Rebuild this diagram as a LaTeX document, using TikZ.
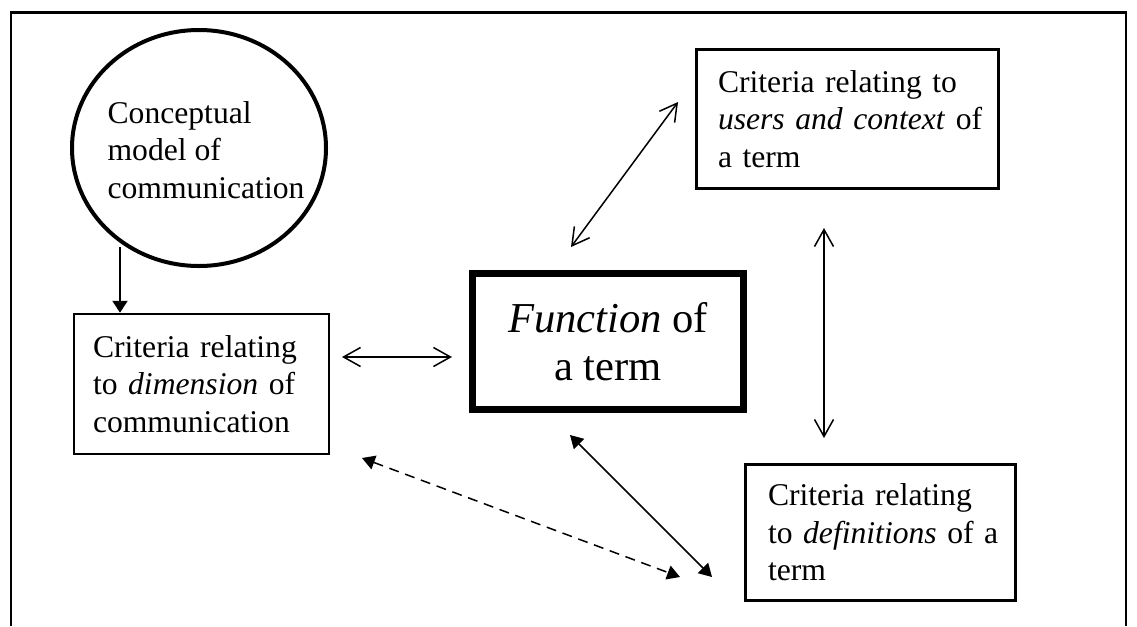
\documentclass[tikz,border=0pt]{standalone}
\usepackage{fontspec}
\setmainfont{Liberation Serif}
\usetikzlibrary{arrows.meta,shapes.geometric}

\begin{document}
\begin{tikzpicture}[
            x=0.025cm,y=-0.025cm,
            txt/.style={font=\fontsize{22.5}{26.7}\selectfont,align=left,inner sep=0},
            crit/.style={draw,txt,line width=0.07cm},
            barb/.style={line width=0.0375cm,{Straight Barb[length=0.425cm,width=0.475cm]}-{Straight Barb[length=0.425cm,width=0.475cm]}},
            solid head/.style={line width=0.0375cm,{Triangle[length=0.32cm,width=0.36cm]}-{Triangle[length=0.32cm,width=0.36cm]}}
            ]
            \def\u{0.025cm} % one pixel of the reference

            \useasboundingbox (0,0) rectangle (1137,626);
            \draw[line width=0.07cm] (11,626) -- (11,12.5) -- (1126,12.5) -- (1126,626);

            % model and criteria
            \node (model) [ellipse,draw,line width=0.1cm,inner sep=0,
                minimum width=254*\u,minimum height=236*\u] at (199,148) {};
            \node (modeltext) [txt] at (206,150) {Conceptual\\model of\\communication};
            \node (dim) [crit,line width=0.0625cm,minimum width=255*\u,minimum height=140*\u,
                text width=217*\u] at (201.5,384)
                {\mbox{Criteria relating}\\\mbox{to \textit{dimension} of}\\\mbox{communication}};
            \node (fun) [draw,line width=0.175cm,minimum width=271*\u,minimum height=136*\u,
                font=\fontsize{30.3}{34.1}\selectfont,align=center,inner sep=0]
                at (608,341.5) {\textit{Function} of\\a term};
            \node (users) [crit,minimum width=302*\u,minimum height=139*\u,
                text width=259*\u] at (847.5,119)
                {\mbox{Criteria relating to}\\\mbox{\textit{users and context} of}\\\mbox{a term}};
            \node (defs) [crit,minimum width=270*\u,minimum height=136*\u,
                text width=225*\u] at (880.5,532.5)
                {\mbox{Criteria relating}\\\mbox{to \textit{definitions} of a}\\\mbox{term}};

            % arrow ends
            \coordinate (m-out) at (120,247);
            \coordinate (h-l) at (342,357);
            \coordinate (h-r) at (452,357);
            \coordinate (u-lo) at (571,247);
            \coordinate (u-hi) at (678,102);
            \coordinate (v-hi) at (824,228);
            \coordinate (v-lo) at (824,438);
            \coordinate (s-hi) at (570,435);
            \coordinate (s-lo) at (712,577);
            \coordinate (d-l) at (362,458);
            \coordinate (d-r) at (680,577);

            \draw[line width=0.0375cm,-{Triangle[length=0.3cm,width=0.38cm]}] (m-out) -- (m-out |- dim.north);
            \foreach \a/\b in {h-l/h-r,u-lo/u-hi,v-hi/v-lo} {
                \draw[barb] (\a) -- (\b);
            }
            \draw[solid head] (s-hi) -- (s-lo);
            \draw[solid head,dash pattern=on 0.25cm off 0.17cm] (d-l) -- (d-r);
        \end{tikzpicture}
\end{document}
